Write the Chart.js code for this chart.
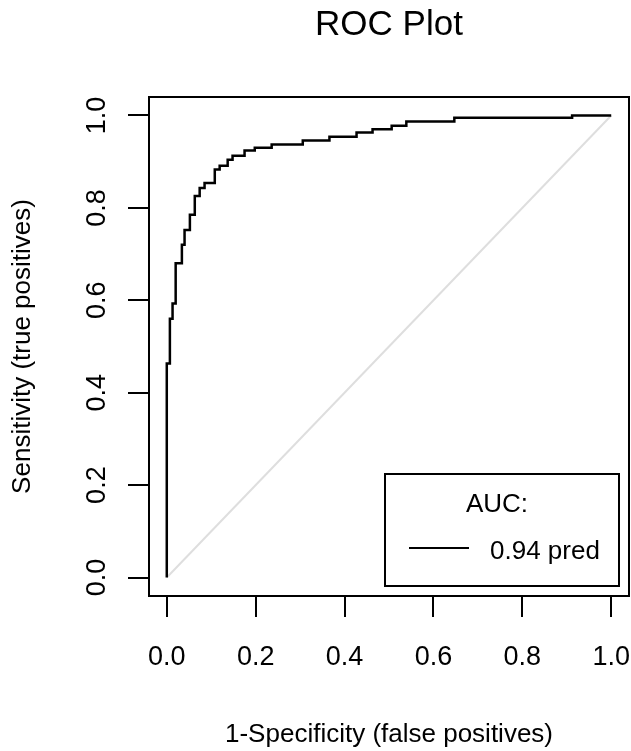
<!DOCTYPE html>
<html>
<head>
<meta charset="utf-8">
<script src="https://cdn.jsdelivr.net/npm/chart.js@4.4.0/dist/chart.umd.min.js"></script>
<style>
  html, body { margin: 0; padding: 0; background: #fff; }
  canvas { display: block; }
</style>
</head>
<body>
<canvas id="rocChart" width="631" height="751"></canvas>
<script>
// ROC curve points (false positive rate, true positive rate)
let fpr = [0, 0, 0.007, 0.013, 0.02, 0.034, 0.04, 0.052, 0.063, 0.074, 0.085, 0.108, 0.119, 0.137, 0.148,
           0.175, 0.198, 0.236, 0.306, 0.366, 0.427, 0.463, 0.506, 0.539, 0.647, 0.912, 1.0]
let tpr = [0, 0.463, 0.56, 0.593, 0.68, 0.72, 0.752, 0.785, 0.826, 0.843, 0.854, 0.883, 0.891, 0.904, 0.913,
           0.924, 0.93, 0.937, 0.946, 0.954, 0.963, 0.97, 0.978, 0.987, 0.995, 1.0, 1.0]
// chance line
let diagX = [0, 1]
let diagY = [0, 1]
let xTicks = [0, 0.2, 0.4, 0.6, 0.8, 1.0]
let yTicks = [0, 0.2, 0.4, 0.6, 0.8, 1.0]
let aucTitle = 'AUC:'
let aucLabel = '0.94 pred'

let fontFamily = '"Liberation Sans", Arial, sans-serif'
Chart.defaults.font.family = fontFamily
Chart.defaults.color = '#000'

let toPoints = (xs, ys) => xs.map((x, i) => ({ x: x, y: ys[i] }))

// box around the plot region, like R's box()
let plotBox = {
    id: 'plotBox',
    afterDatasetsDraw(chart) {
        let ctx = chart.ctx, a = chart.chartArea
        ctx.save()
        ctx.strokeStyle = '#000'
        ctx.lineWidth = 2
        ctx.strokeRect(a.left, a.top, a.right - a.left, a.bottom - a.top)
        ctx.restore()
    }
}

// legend in the bottom right corner
let aucLegend = {
    id: 'aucLegend',
    afterDraw(chart) {
        let ctx = chart.ctx, a = chart.chartArea
        let w = 234, h = 112
        let left = a.right - 10 - w, top = a.bottom - 10 - h
        ctx.save()
        ctx.fillStyle = '#fff'
        ctx.fillRect(left, top, w, h)
        ctx.strokeStyle = '#000'
        ctx.lineWidth = 2
        ctx.strokeRect(left, top, w, h)
        ctx.fillStyle = '#000'
        ctx.font = '26px ' + fontFamily
        ctx.textAlign = 'center'
        ctx.textBaseline = 'middle'
        ctx.fillText(aucTitle, left + w / 2 - 5, top + 31)
        ctx.beginPath()
        ctx.moveTo(left + 24, top + 74)
        ctx.lineTo(left + 84, top + 74)
        ctx.stroke()
        ctx.textAlign = 'left'
        ctx.fillText(aucLabel, left + 105, top + 78)
        ctx.restore()
    }
}

let ctx = document.getElementById('rocChart').getContext('2d')
let rocChart = new Chart(ctx, {
    type: 'scatter',
    data: {
        datasets: [{
            label: 'pred',
            data: toPoints(fpr, tpr),
            showLine: true,
            stepped: 'before',
            borderColor: '#000',
            borderWidth: 2.5,
            pointRadius: 0
        }, {
            label: 'chance',
            data: toPoints(diagX, diagY),
            showLine: true,
            borderColor: '#dedede',
            borderWidth: 2,
            pointRadius: 0
        }]
    },
    options: {
        responsive: false,
        animation: false,
        layout: { padding: { top: 0, right: 2, bottom: 0, left: 0 } },
        plugins: {
            legend: { display: false },
            tooltip: { enabled: false }
        },
        scales: {
            // top axis only carries the main title, centred over the plot box
            top: {
                type: 'linear',
                position: 'top',
                min: -0.04,
                max: 1.04,
                afterFit: axis => { axis.height = 97; axis.paddingLeft = 0; axis.paddingRight = 0 },
                border: { display: false },
                grid: { display: false },
                ticks: { display: false },
                title: {
                    display: true,
                    text: 'ROC Plot',
                    font: { size: 35 },
                    padding: { top: 4, bottom: 0 }
                }
            },
            x: {
                type: 'linear',
                min: -0.04,
                max: 1.04,
                afterBuildTicks: axis => { axis.ticks = xTicks.map(v => ({ value: v })) },
                afterFit: axis => { axis.height = 155; axis.paddingLeft = 0; axis.paddingRight = 0 },
                border: { display: false },
                grid: { drawOnChartArea: false, drawTicks: true, tickLength: 21, color: '#000', lineWidth: 2 },
                ticks: { font: { size: 27 }, padding: 24, maxRotation: 0, callback: v => v.toFixed(1) },
                title: {
                    display: true,
                    text: '1-Specificity (false positives)',
                    font: { size: 26 },
                    padding: { top: 0, bottom: 1 }
                }
            },
            y: {
                type: 'linear',
                min: -0.04,
                max: 1.04,
                afterBuildTicks: axis => { axis.ticks = yTicks.map(v => ({ value: v })) },
                afterFit: axis => { axis.width = 149; axis.paddingTop = 0; axis.paddingBottom = 0 },
                border: { display: false },
                grid: { drawOnChartArea: false, drawTicks: true, tickLength: 21, color: '#000', lineWidth: 2 },
                ticks: {
                    font: { size: 27 },
                    padding: 12,
                    minRotation: 90,
                    maxRotation: 90,
                    crossAlign: 'center',
                    callback: v => v.toFixed(1)
                },
                title: {
                    display: true,
                    text: 'Sensitivity (true positives)',
                    font: { size: 26 },
                    padding: { top: 7, bottom: 0 }
                }
            }
        }
    },
    plugins: [plotBox, aucLegend]
})
</script>
</body>
</html>
